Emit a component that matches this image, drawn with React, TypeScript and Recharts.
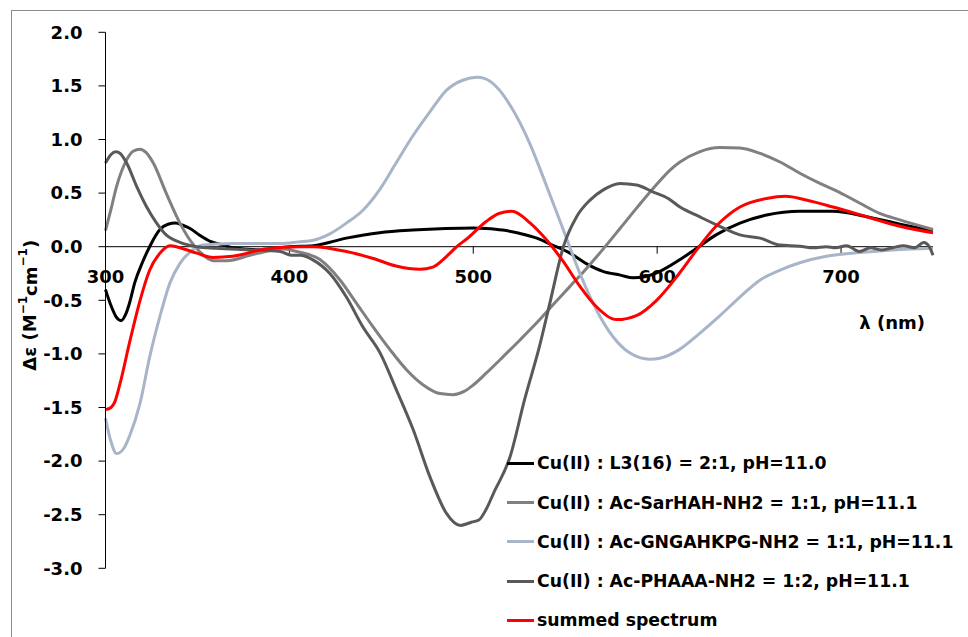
import { LineChart, Line, XAxis, YAxis, ReferenceLine, Legend } from 'recharts'

const FONT = '"DejaVu Sans", "Liberation Sans", sans-serif'

// [wavelength nm, Δε]
const l3Spectrum: [number, number][] = [
  [300, -0.40], [303, -0.55], [306, -0.66], [308.5, -0.69], [311, -0.63], [313, -0.53], [316, -0.33],
  [320, -0.15], [324, 0.0], [329.6, 0.16], [334, 0.21], [338, 0.22], [342, 0.20], [346, 0.17], [351, 0.11],
  [357, 0.05], [363, 0.02], [369, -0.01], [385, -0.03], [400, 0.0], [413, 0.01], [431, 0.08], [449, 0.13],
  [467, 0.155], [485, 0.17], [500, 0.175], [507, 0.17], [516, 0.155], [525, 0.125], [534.5, 0.08],
  [543, 0.015], [552.6, -0.06], [561.7, -0.16], [570.5, -0.23], [580, -0.265], [587, -0.29], [593, -0.28],
  [601.5, -0.23], [612, -0.125], [621.5, -0.015], [632, 0.11], [645, 0.22], [659.5, 0.295], [677.6, 0.33],
  [695.6, 0.33], [714, 0.28], [732, 0.21], [750, 0.15],
]

const sarhahSpectrum: [number, number][] = [
  [300, 0.15], [303, 0.35], [306, 0.56], [311.5, 0.81], [315, 0.89], [318.8, 0.91], [322, 0.88], [326, 0.78],
  [333, 0.50], [340.5, 0.22], [346, 0.06], [351.4, -0.05], [358.5, -0.13], [366, -0.13], [378.6, -0.08],
  [391, -0.03], [396, -0.02], [404, -0.045], [416.6, -0.12], [427.5, -0.31], [436.6, -0.53], [445.6, -0.75],
  [454.7, -0.96], [463.8, -1.15], [472.8, -1.29], [481.9, -1.37], [489, -1.38], [495, -1.35], [500, -1.29],
  [507, -1.18], [516, -1.03], [525.4, -0.87], [534.5, -0.71], [543.5, -0.54], [552.6, -0.37], [561.7, -0.20],
  [570.7, -0.02], [579.8, 0.17], [588.8, 0.36], [597.9, 0.545], [607, 0.715], [612.4, 0.79], [623, 0.885],
  [634, 0.925], [645, 0.92], [656, 0.87], [666.8, 0.79], [677.6, 0.685], [688.5, 0.59], [699.4, 0.505],
  [710.3, 0.405], [721, 0.31], [732, 0.25], [750, 0.16],
]

const gngahkpgSpectrum: [number, number][] = [
  [300, -1.60], [303, -1.82], [306, -1.93], [310, -1.88], [313, -1.77], [318.8, -1.46], [324, -1.03],
  [329.6, -0.65], [335, -0.34], [340.5, -0.155], [346, -0.05], [353, 0.015], [369, 0.03], [395, 0.03],
  [405, 0.045], [413, 0.06], [422, 0.12], [431, 0.22], [440, 0.34], [449, 0.53], [458, 0.78], [467, 1.03],
  [476.5, 1.26], [485.5, 1.46], [494.6, 1.555], [502, 1.58], [506, 1.57], [512.7, 1.49], [521.6, 1.275],
  [530.8, 0.96], [540, 0.56], [549, 0.155], [558, -0.25], [567, -0.59], [576, -0.84], [585, -0.99],
  [596, -1.05], [601.5, -1.04], [612, -0.96], [623, -0.81], [633.7, -0.65], [645, -0.47], [656, -0.31],
  [666.6, -0.22], [677.6, -0.15], [692, -0.09], [710, -0.055], [728, -0.03], [750, -0.015],
]

const phaaaSpectrum: [number, number][] = [
  [300, 0.78], [303, 0.86], [305.7, 0.885], [308, 0.87], [311.5, 0.78], [317, 0.56], [322.4, 0.37],
  [327.8, 0.22], [333, 0.11], [340.5, 0.04], [349.6, 0.0], [360, -0.015], [378.6, -0.03], [395, -0.045],
  [401, -0.08], [406, -0.08], [413, -0.125], [422, -0.25], [431, -0.47], [440, -0.75], [449.3, -0.99],
  [458.3, -1.34], [467.4, -1.71], [476.5, -2.15], [485.5, -2.49], [493, -2.60], [499, -2.57], [503, -2.55],
  [507, -2.45], [511, -2.30], [520, -1.96], [528, -1.42], [536, -0.93], [542, -0.50], [549, 0.0],
  [556.2, 0.28], [563.5, 0.435], [570.7, 0.53], [579.8, 0.59], [588.8, 0.575], [597.9, 0.51], [606, 0.45],
  [612.4, 0.37], [623, 0.28], [634, 0.19], [645, 0.11], [656, 0.08], [666.8, 0.015], [677.6, 0.005],
  [685, -0.01], [692, 0.0], [697, -0.01], [703, 0.01], [710, -0.045], [716, -0.01], [722, -0.03],
  [728, -0.01], [734, 0.01], [740, -0.01], [745, 0.04], [748, 0.0], [750, -0.08],
]

const summedSpectrum: [number, number][] = [
  [300, -1.52], [303, -1.50], [305, -1.45], [308, -1.27], [313, -0.90], [318.8, -0.50], [324, -0.22],
  [329.6, -0.06], [335, 0.01], [340.5, -0.01], [349.6, -0.06], [358.5, -0.10], [369, -0.09], [387.6, -0.02],
  [406, 0.0], [413, 0.0], [431, -0.045], [445.6, -0.11], [458, -0.18], [471, -0.21], [478, -0.19],
  [485.5, -0.09], [491, 0.0], [497, 0.08], [507, 0.235], [514, 0.31], [521, 0.33], [531, 0.22], [540, 0.06],
  [549, -0.14], [558, -0.37], [567, -0.56], [578, -0.68], [589, -0.64], [599.7, -0.50], [612, -0.25],
  [621.5, -0.03], [632, 0.19], [645, 0.37], [659.5, 0.45], [670, 0.47], [681, 0.435], [695.6, 0.37],
  [714, 0.28], [732, 0.19], [750, 0.13],
]

const seriesNames = [
  'Cu(II) : L3(16) = 2:1, pH=11.0',
  'Cu(II) : Ac-SarHAH-NH2 = 1:1, pH=11.1',
  'Cu(II) : Ac-GNGAHKPG-NH2 = 1:1, pH=11.1',
  'Cu(II) : Ac-PHAAA-NH2 = 1:2, pH=11.1',
  'summed spectrum',
]
const seriesColors = ['#000000', '#808080', '#a8b5c9', '#595959', '#ff0000']
const seriesData = [l3Spectrum, sarhahSpectrum, gngahkpgSpectrum, phaaaSpectrum, summedSpectrum]

const xTickLabels = [300, 400, 500, 600, 700]
const yTicks = [-3, -2.5, -2, -1.5, -1, -0.5, 0, 0.5, 1, 1.5, 2]

const series = seriesNames.map((name, i) => ({
  name,
  color: seriesColors[i],
  data: seriesData[i].map(([nm, de]) => ({ nm, de })),
}))

const YLabel = ({ viewBox }: any) => {
  const cx = viewBox.x - 15.5
  const cy = viewBox.y + viewBox.height / 2 + 5
  return (
    <text
      x={cx}
      y={cy}
      transform={`rotate(-90 ${cx} ${cy})`}
      textAnchor="middle"
      dominantBaseline="central"
      fill="#000"
      style={{ fontFamily: FONT, fontWeight: 'bold', fontSize: 18 }}
    >
      Δε (M<tspan dy={-7} fontSize={12}>−1</tspan>
      <tspan dy={7}>cm</tspan>
      <tspan dy={-7} fontSize={12}>−1</tspan>
      <tspan dy={7}>)</tspan>
    </text>
  )
}

const LambdaLabel = ({ viewBox }: any) => (
  <text
    x={viewBox.x + viewBox.width - 8}
    y={viewBox.y + 82}
    textAnchor="end"
    fill="#000"
    style={{ fontFamily: FONT, fontWeight: 'bold', fontSize: 18 }}
  >
    λ (nm)
  </text>
)

const XTickLabel = ({ viewBox, text }: any) => (
  <text
    x={viewBox.x}
    y={viewBox.y + 36}
    textAnchor="middle"
    fill="#000"
    style={{ fontFamily: FONT, fontWeight: 'bold', fontSize: 18 }}
  >
    {text}
  </text>
)

// keep the legend in series order (recharts sorts it by name otherwise)
const renderLegend = ({ payload }: any) => {
  const items = [...(payload || [])].sort(
    (a: any, b: any) => seriesNames.indexOf(a.value) - seriesNames.indexOf(b.value)
  )
  return (
    <div>
      {items.map((p: any) => (
        <div key={p.value} style={{ display: 'flex', alignItems: 'center', height: 39.3 }}>
          <span style={{ display: 'inline-block', width: 27, height: 3, background: p.color, marginRight: 3 }} />
          <span style={{ fontFamily: FONT, fontWeight: 'bold', fontSize: 17.3, color: '#000', whiteSpace: 'nowrap' }}>
            {p.value}
          </span>
        </div>
      ))}
    </div>
  )
}

export default function App() {
  return (
    <div style={{ position: 'absolute', left: 0, top: 0, width: 968, height: 637, overflow: 'hidden', background: '#fff' }}>
      {/* outer frame, only top and left edges visible */}
      <div style={{ position: 'absolute', left: 11, top: 10, width: 1200, height: 1000, border: '1px solid #8a8a8a' }} />
      <div style={{ position: 'absolute', left: 0, top: 0 }}>
        <LineChart width={968} height={637} margin={{ top: 32.3, right: 35, bottom: 68.7, left: 45.5 }}>
          <XAxis dataKey="nm" type="number" domain={[300, 750]} allowDuplicatedCategory={false} hide />
          <YAxis
            type="number"
            domain={[-3, 2]}
            ticks={yTicks}
            interval={0}
            width={60}
            tickSize={7}
            tickMargin={16}
            tickFormatter={(v: number) => v.toFixed(1)}
            axisLine={{ stroke: '#000' }}
            tickLine={{ stroke: '#000' }}
            tick={{ fill: '#000', fontSize: 18, fontWeight: 'bold', fontFamily: FONT }}
            label={<YLabel />}
          />
          <ReferenceLine y={0} stroke="#000" strokeWidth={1} label={<LambdaLabel />} />
          {xTickLabels.map(t => (
            <ReferenceLine
              key={t}
              segment={[{ x: t, y: 0 }, { x: t, y: -0.065 }]}
              stroke="#000"
              label={<XTickLabel text={String(t)} />}
            />
          ))}
          {series.map(s => (
            <Line
              key={s.name}
              data={s.data}
              dataKey="de"
              name={s.name}
              type="monotone"
              stroke={s.color}
              strokeWidth={3}
              dot={false}
              isAnimationActive={false}
            />
          ))}
          <Legend
            layout="vertical"
            align="center"
            verticalAlign="middle"
            content={renderLegend}
            wrapperStyle={{ left: 507, top: 443.6, width: 'auto' }}
          />
        </LineChart>
      </div>
    </div>
  )
}
